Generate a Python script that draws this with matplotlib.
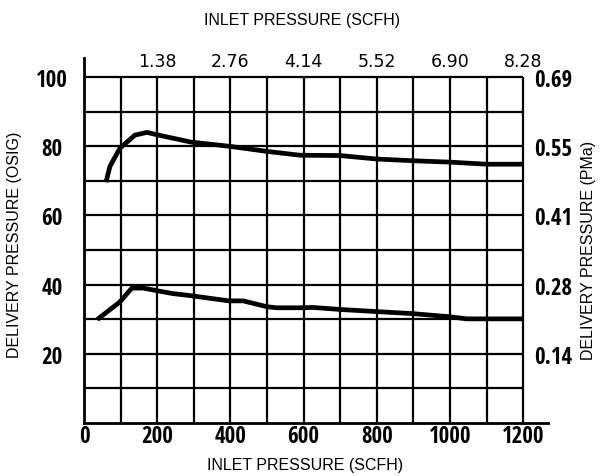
import matplotlib
matplotlib.use("Agg")
import matplotlib.pyplot as plt

# Data
upper_x = [60, 71, 98, 139, 172, 200, 292, 396, 500, 590, 700, 800, 900, 1000, 1100, 1200]
upper_y = [69.6, 74.2, 79.4, 83.2, 84.0, 83.3, 81.2, 80.0, 78.5, 77.4, 77.3, 76.3, 75.8, 75.4, 74.8, 74.8]
lower_x = [36, 98, 131, 161, 243, 292, 396, 435, 500, 527, 590, 626, 702, 800, 900, 1000, 1046, 1100, 1200]
lower_y = [29.9, 35.0, 39.0, 39.0, 37.4, 36.8, 35.3, 35.3, 33.6, 33.3, 33.3, 33.4, 32.8, 32.2, 31.6, 30.7, 30.1, 30.1, 30.1]

bottom_ticks = [0, 200, 400, 600, 800, 1000, 1200]
top_ticks = [200, 400, 600, 800, 1000, 1200]
top_labels = ["1.38", "2.76", "4.14", "5.52", "6.90", "8.28"]
left_ticks = [20, 40, 60, 80, 100]
right_labels = ["0.14", "0.28", "0.41", "0.55", "0.69"]

narrow = ["Open Sans Condensed", "DejaVu Sans"]
reg = ["Liberation Sans", "DejaVu Sans"]

fig = plt.figure(figsize=(6.03, 4.77), dpi=100)
ax = fig.add_axes([84/603, 1-424/477, (548-84)/603, (424-59)/477])
ax.set_xlim(0, 1268)
ax.set_ylim(0, 105.5)

# grid
for gx in range(100, 1201, 100):
    ax.plot([gx, gx], [0, 100], color="black", lw=1.6, solid_capstyle="butt", zorder=1)
for gy in range(10, 101, 10):
    ax.plot([0, 1200], [gy, gy], color="black", lw=1.6, solid_capstyle="butt", zorder=1)

ax.plot(upper_x, upper_y, color="black", lw=3.4, solid_capstyle="butt", zorder=3)
ax.plot(lower_x, lower_y, color="black", lw=3.4, solid_capstyle="butt", zorder=3)

for s in ["top", "right"]:
    ax.spines[s].set_visible(False)
for s in ["left", "bottom"]:
    ax.spines[s].set_linewidth(2)

ax.set_xticks(bottom_ticks)
ax.set_xticklabels([str(t) for t in bottom_ticks], family=narrow, fontweight="bold", fontsize=16.5)
ax.set_yticks(left_ticks)
ax.set_yticklabels([str(t) for t in left_ticks], family=narrow, fontweight="bold", fontsize=16.5, ha="center")
ax.tick_params(axis="x", length=0, pad=1)
ax.tick_params(axis="y", length=0, pad=23)

sec_top = ax.secondary_xaxis(100/105.5)
sec_top.set_xticks(top_ticks)
sec_top.set_xticklabels(top_labels, family=["DejaVu Sans"], fontsize=12.5)
sec_top.tick_params(length=0, pad=5)
sec_top.spines["top"].set_visible(False)
sec_top.spines["bottom"].set_visible(False)

sec_right = ax.secondary_yaxis(1200/1268)
sec_right.set_yticks(left_ticks)
sec_right.set_yticklabels(right_labels, family=narrow, fontweight="bold", fontsize=16.5)
sec_right.tick_params(length=0, pad=8)
sec_right.spines["right"].set_visible(False)
sec_right.spines["left"].set_visible(False)

fig.text(302/603, 1-20/477, "INLET PRESSURE (SCFH)", ha="center", va="center", family=reg, fontsize=11.5)
fig.text(305/603, 1-466/477, "INLET PRESSURE (SCFH)", ha="center", va="center", family=reg, fontsize=11.5)
fig.text(15/603, 1-245/477, "DELIVERY PRESSURE (OSIG)", ha="center", va="center", rotation=90, family=reg, fontsize=11.5)
fig.text(588/603, 1-250/477, "DELIVERY PRESSURE (PMa)", ha="center", va="center", rotation=90, family=reg, fontsize=11.5)

fig.savefig("out.png", dpi=100)
